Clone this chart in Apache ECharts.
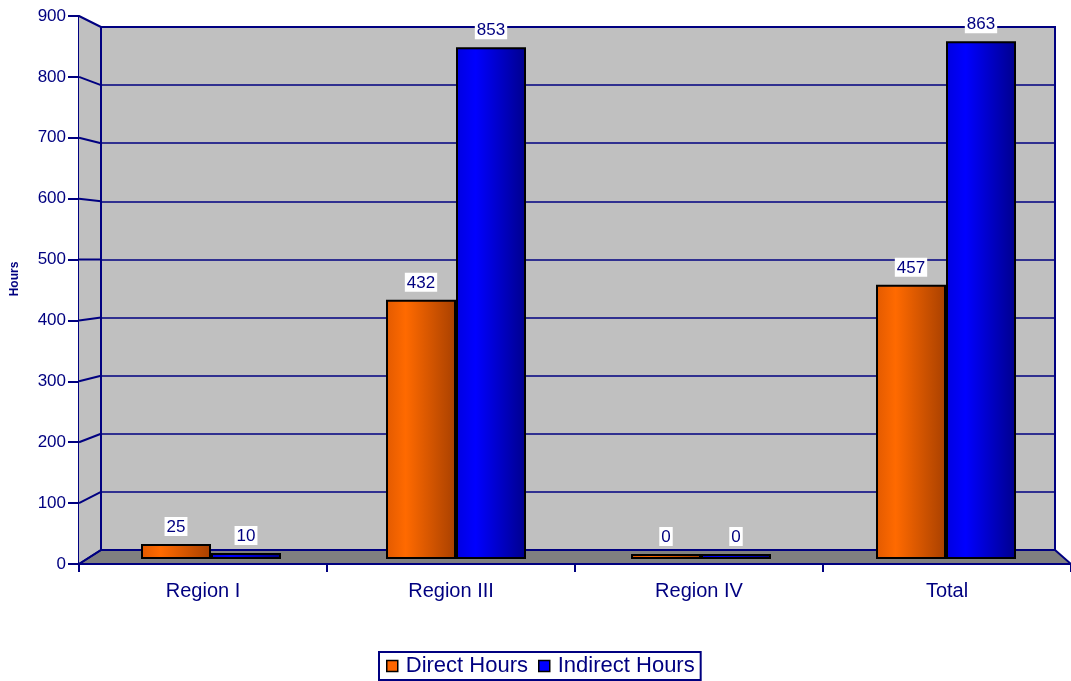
<!DOCTYPE html>
<html>
<head>
<meta charset="utf-8">
<title>Hours by Region</title>
<script src="https://cdn.jsdelivr.net/npm/echarts@6/dist/echarts.min.js"></script>
<style>
  html, body { margin: 0; padding: 0; background: #ffffff; }
  #chart { width: 1071px; height: 681px; }
</style>
</head>
<body>
<div id="chart"></div>
<script>
// Chart data
const categories = ['Region I', 'Region III', 'Region IV', 'Total'];
const directHours = [25, 432, 0, 457];
const indirectHours = [10, 853, 0, 863];
const yTicks = [0, 100, 200, 300, 400, 500, 600, 700, 800, 900];

const NAVY = '#000080';
const FONT = '"Liberation Sans", Arial, sans-serif';
const Y_MAX = 900;
const Y_STEP = 100;

// Pseudo-3D frame: back wall, front (labelled) axis, and the bar plane
const back = { left: 101, top: 27, right: 1055, bottom: 550 };
const front = { left: 79, top: 16, right: 1071, bottom: 564 };

function barGradient(light, bright, dark) {
  return {
    type: 'linear', x: 0, y: 0, x2: 1, y2: 0,
    colorStops: [
      { offset: 0, color: light },
      { offset: 0.28, color: bright },
      { offset: 1, color: dark }
    ]
  };
}

const labelStyle = {
  show: true,
  position: 'top',
  distance: 8,
  color: NAVY,
  fontFamily: FONT,
  fontSize: 17,
  backgroundColor: '#ffffff',
  padding: [2, 2, 0, 2]
};

const chart = echarts.init(document.getElementById('chart'), null, { renderer: 'canvas' });

const option = {
  backgroundColor: '#ffffff',
  animation: false,
  textStyle: { fontFamily: FONT },
  legend: {
    left: 379,
    top: 652,
    orient: 'horizontal',
    padding: [3, 6, 3, 7],
    itemGap: 10,
    itemWidth: 11,
    itemHeight: 11,
    icon: 'rect',
    borderColor: NAVY,
    borderWidth: 2,
    backgroundColor: '#ffffff',
    textStyle: { color: NAVY, fontSize: 22, fontFamily: FONT, padding: [0, 0, 0, 3] },
    itemStyle: { borderColor: '#000000', borderWidth: 1.5 },
    data: [
      { name: 'Direct Hours', itemStyle: { color: '#ff6600', borderColor: '#000', borderWidth: 1.5 } },
      { name: 'Indirect Hours', itemStyle: { color: '#0000ff', borderColor: '#000', borderWidth: 1.5 } }
    ]
  },
  grid: [
    // back wall
    {
      left: back.left, top: back.top,
      width: back.right - back.left, height: back.bottom - back.top,
      show: true, backgroundColor: '#c0c0c0',
      borderColor: NAVY, borderWidth: 2
    },
    // front axes
    {
      left: front.left, top: front.top,
      width: 997, height: front.bottom - front.top
    },
    // bar plane
    {
      left: 88.5, top: 19, width: 980, height: 540
    }
  ],
  xAxis: [
    { gridIndex: 0, type: 'category', data: categories, show: false },
    {
      gridIndex: 1, type: 'category', data: categories,
      axisLine: { show: true, lineStyle: { color: NAVY, width: 2 } },
      axisTick: { show: true, length: 8, alignWithLabel: false, lineStyle: { color: NAVY, width: 2 } },
      axisLabel: { color: NAVY, fontSize: 20, fontFamily: FONT, margin: 17 },
      splitLine: { show: false }
    },
    { gridIndex: 2, type: 'category', data: categories, show: false }
  ],
  yAxis: [
    {
      gridIndex: 0, type: 'value', min: 0, max: Y_MAX, interval: Y_STEP,
      axisLine: { show: false }, axisTick: { show: false }, axisLabel: { show: false },
      splitLine: { show: true, lineStyle: { color: NAVY, width: 1.5 } }
    },
    {
      gridIndex: 1, type: 'value', min: 0, max: Y_MAX, interval: Y_STEP,
      name: 'Hours', nameLocation: 'middle', nameGap: 58, nameRotate: 90,
      nameTextStyle: { color: NAVY, fontSize: 12, fontWeight: 'bold', fontFamily: FONT, padding: [0, 0, 0, 22] },
      axisLine: { show: true, lineStyle: { color: NAVY, width: 2 } },
      axisTick: { show: true, length: 11, lineStyle: { color: NAVY, width: 2 } },
      axisLabel: {
        color: NAVY, fontSize: 17, fontFamily: FONT, margin: 13,
        formatter: (v) => (yTicks.indexOf(v) >= 0 ? String(v) : '')
      },
      splitLine: { show: false }
    },
    { gridIndex: 2, type: 'value', min: 0, max: Y_MAX, show: false, splitLine: { show: false } }
  ],
  series: [
    {
      name: 'Direct Hours', type: 'bar', xAxisIndex: 2, yAxisIndex: 2,
      data: directHours, barWidth: 70, barGap: '0%', barMinHeight: 5, z: 5,
      itemStyle: {
        color: barGradient('#e25a00', '#ff6a00', '#a84000'),
        borderColor: '#000000', borderWidth: 2
      },
      label: labelStyle
    },
    {
      name: 'Indirect Hours', type: 'bar', xAxisIndex: 2, yAxisIndex: 2,
      data: indirectHours, barWidth: 70, barGap: '0%', barMinHeight: 5, z: 5,
      itemStyle: {
        color: barGradient('#0000e0', '#0000ff', '#00008c'),
        borderColor: '#000000', borderWidth: 2
      },
      label: labelStyle
    }
  ]
};

chart.setOption(option);

// Side wall, floor and the slanted grid connectors, placed from the two value axes
function drawFrame() {
  const frontY = (v) => chart.convertToPixel({ yAxisIndex: 1 }, v);
  const backY = (v) => chart.convertToPixel({ yAxisIndex: 0 }, v);
  const f0 = frontY(0), fTop = frontY(Y_MAX);
  const b0 = backY(0), bTop = backY(Y_MAX);

  const elements = [
    {
      type: 'polygon', z: 1, silent: true,
      shape: { points: [[front.left, fTop], [back.left, bTop], [back.left, b0], [front.left, f0]] },
      style: { fill: '#c0c0c0', stroke: 'none' }
    },
    {
      type: 'polygon', z: 2, silent: true,
      shape: { points: [[front.left, f0], [back.left, b0], [back.right, b0], [front.right, f0]] },
      style: { fill: '#808080', stroke: NAVY, lineWidth: 2 }
    }
  ];
  yTicks.forEach((v) => {
    elements.push({
      type: 'line', z: 3, silent: true,
      shape: { x1: front.left, y1: frontY(v), x2: back.left, y2: backY(v) },
      style: { stroke: NAVY, lineWidth: 2 }
    });
  });
  elements.push({
    type: 'line', z: 3, silent: true,
    shape: { x1: back.left, y1: bTop, x2: back.left, y2: b0 },
    style: { stroke: NAVY, lineWidth: 2 }
  });
  chart.setOption({ graphic: { elements: elements } });
}
drawFrame();
</script>
</body>
</html>
